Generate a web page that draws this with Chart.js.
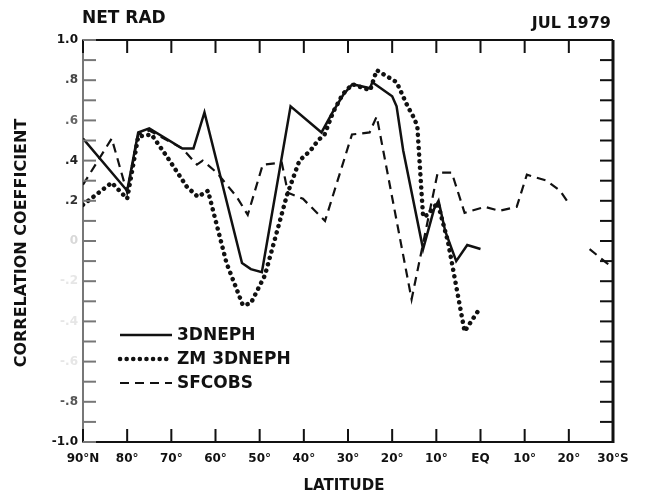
<!DOCTYPE html>
<html lang="en">
<head>
<meta charset="UTF-8">
<title>NET RAD - JUL 1979</title>
<script src="https://cdn.jsdelivr.net/npm/chart.js"></script>
<style>
  html, body { margin: 0; padding: 0; background: #fff; }
</style>
</head>
<body>
<canvas id="chart" width="652" height="497"></canvas>
<script>
// latitude: positive = north, negative = south
const nephLat = [90, 80, 77.5, 75, 67.5, 65, 62.5, 54, 52, 49.5, 43, 36, 33.5, 31, 29, 25, 24.5, 20, 19, 17.5, 13, 10.5, 9.5, 8, 5.5, 3, 0];
const nephVal = [0.51, 0.25, 0.54, 0.56, 0.46, 0.46, 0.64, -0.11, -0.14, -0.155, 0.67, 0.54, 0.64, 0.73, 0.78, 0.76, 0.79, 0.72, 0.67, 0.45, -0.04, 0.16, 0.20, 0.05, -0.10, -0.02, -0.04];

const zmLat = [90, 83.5, 80, 77.5, 74.5, 71, 66.5, 64, 61.7, 57.5, 53.8, 52, 48.8, 43.8, 41, 38.5, 36.8, 35.3, 33.4, 31.2, 29, 25, 23.5, 19, 16.5, 15, 14.3, 13, 12, 9.7, 7.4, 6.3, 3.6, 0];
const zmVal = [0.18, 0.29, 0.21, 0.52, 0.53, 0.42, 0.27, 0.22, 0.25, -0.11, -0.32, -0.31, -0.17, 0.23, 0.40, 0.45, 0.50, 0.53, 0.64, 0.73, 0.78, 0.75, 0.85, 0.79, 0.67, 0.61, 0.57, 0.12, 0.13, 0.19, 0.0, -0.13, -0.45, -0.33];

const sfcLat = [90, 83.5, 80, 77.5, 75, 67.5, 64.2, 62.9, 59.7, 55.2, 52.7, 49.3, 45, 43.6, 40.2, 35.2, 29.1, 25.1, 23.5, 15.6, 9.7, 6.5, 3.6, -1, -4.3, -8.2, -10.5, -15, -18, -20.2, -22.5, -24.7, -28.6, -30];
const sfcVal = [0.28, 0.51, 0.24, 0.53, 0.55, 0.46, 0.38, 0.40, 0.34, 0.22, 0.13, 0.38, 0.39, 0.24, 0.21, 0.10, 0.53, 0.54, 0.62, -0.29, 0.34, 0.34, 0.14, 0.17, 0.15, 0.17, 0.33, 0.30, 0.25, 0.18, null, -0.04, -0.11, -0.13];

const seriesNames = ['3DNEPH', 'ZM 3DNEPH', 'SFCOBS'];

const yLabelValues = [1, 0.8, 0.6, 0.4, 0.2, 0, -0.2, -0.4, -0.6, -0.8, -1];
const yLabelText = ['1.0', '.8', '.6', '.4', '.2', '0', '-.2', '-.4', '-.6', '-.8', '-1.0'];
const yLabelColor = ['#111', '#444', '#666', '#222', '#333', '#d8d8d8', '#e6e6e6', '#e6e6e6', '#e6e6e6', '#555', '#111'];

const FONT = '"DejaVu Sans", "Liberation Sans", sans-serif';

function pts(lat, val) {
  return lat.map((x, i) => ({ x: x, y: val[i] }));
}

function latLabel(v) {
  if (v === 90) return '90°N';
  if (v === 0) return 'EQ';
  if (v === -30) return '30°S';
  return Math.abs(v) + '°';
}

function yIndex(v) {
  return yLabelValues.findIndex(t => Math.abs(t - v) < 1e-6);
}

// inward ticks, frame, titles and legend
const decor = {
  id: 'decor',
  afterDraw(chart) {
    const ctx = chart.ctx;
    const a = chart.chartArea;
    const xs = chart.scales.x, ys = chart.scales.y;
    ctx.save();
    ctx.strokeStyle = '#111';

    ctx.lineWidth = 2;
    ctx.beginPath();
    ctx.moveTo(a.left, a.top); ctx.lineTo(a.right, a.top);
    ctx.stroke();
    ctx.lineWidth = 3;
    ctx.beginPath();
    ctx.moveTo(a.right, a.top); ctx.lineTo(a.right, a.bottom + 1);
    ctx.stroke();

    ctx.lineWidth = 2;
    xs.ticks.forEach(t => {
      const px = xs.getPixelForValue(t.value);
      ctx.beginPath();
      ctx.moveTo(px, a.top); ctx.lineTo(px, a.top + 13);
      ctx.moveTo(px, a.bottom); ctx.lineTo(px, a.bottom - 13);
      ctx.stroke();
    });
    ys.ticks.forEach(t => {
      const py = ys.getPixelForValue(t.value);
      ctx.strokeStyle = '#777';
      ctx.beginPath();
      ctx.moveTo(a.left, py); ctx.lineTo(a.left + 13, py);
      ctx.stroke();
      ctx.strokeStyle = '#111';
      ctx.beginPath();
      ctx.moveTo(a.right, py); ctx.lineTo(a.right - 13, py);
      ctx.stroke();
    });

    ctx.fillStyle = '#111';
    ctx.textBaseline = 'middle';
    ctx.font = 'bold 17px ' + FONT;
    ctx.textAlign = 'left';
    ctx.fillText('NET RAD', 82, 19);
    ctx.font = 'bold 16px ' + FONT;
    ctx.textAlign = 'right';
    ctx.fillText('JUL 1979', 611, 24);

    ctx.font = 'bold 15px ' + FONT;
    ctx.textAlign = 'center';
    ctx.fillText('LATITUDE', 344, 486);
    ctx.save();
    ctx.translate(22, 243);
    ctx.rotate(-Math.PI / 2);
    ctx.font = 'bold 16px ' + FONT;
    ctx.fillText('CORRELATION COEFFICIENT', 0, 0);
    ctx.restore();

    // legend
    const rows = [335, 359, 383];
    ctx.font = 'bold 17px ' + FONT;
    ctx.textAlign = 'left';
    chart.data.datasets.forEach((ds, i) => {
      ctx.save();
      ctx.strokeStyle = ds.borderColor;
      ctx.lineWidth = ds.borderWidth;
      ctx.lineCap = ds.borderCapStyle || 'butt';
      ctx.setLineDash(ds.borderDash || []);
      ctx.beginPath();
      ctx.moveTo(120, rows[i]); ctx.lineTo(172, rows[i]);
      ctx.stroke();
      ctx.restore();
      ctx.fillText(ds.label, 177, rows[i] + 1);
    });
    ctx.restore();
  }
};

new Chart(document.getElementById('chart'), {
  type: 'line',
  data: {
    datasets: [
      {
        label: seriesNames[0],
        data: pts(nephLat, nephVal),
        borderColor: '#111',
        borderWidth: 2.5,
        pointRadius: 0,
        tension: 0
      },
      {
        label: seriesNames[1],
        data: pts(zmLat, zmVal),
        borderColor: '#111',
        borderWidth: 4.5,
        borderDash: [0.1, 6.5],
        borderCapStyle: 'round',
        pointRadius: 0,
        tension: 0
      },
      {
        label: seriesNames[2],
        data: pts(sfcLat, sfcVal),
        borderColor: '#111',
        borderWidth: 2.2,
        borderDash: [9, 6],
        pointRadius: 0,
        spanGaps: false,
        tension: 0
      }
    ]
  },
  options: {
    responsive: false,
    animation: false,
    layout: { padding: { top: 40, right: 39, left: 0, bottom: 0 } },
    plugins: {
      legend: { display: false },
      title: { display: false },
      tooltip: { enabled: false }
    },
    scales: {
      x: {
        type: 'linear',
        reverse: true,
        min: -30,
        max: 90,
        afterFit: s => { s.height = 55; },
        grid: { display: false, drawTicks: false },
        border: { display: true, color: '#111', width: 2 },
        ticks: {
          stepSize: 10,
          autoSkip: false,
          maxRotation: 0,
          padding: 10,
          color: '#111',
          font: { family: FONT, size: 12, weight: 'bold' },
          callback: v => latLabel(v)
        }
      },
      y: {
        min: -1,
        max: 1,
        afterFit: s => { s.width = 83; },
        grid: { display: false, drawTicks: false },
        border: { display: true, color: '#777', width: 2 },
        ticks: {
          stepSize: 0.1,
          autoSkip: false,
          padding: 5,
          font: { family: FONT, size: 12, weight: 'bold' },
          color: c => { const i = yIndex(c.tick.value); return i < 0 ? '#111' : yLabelColor[i]; },
          callback: v => { const i = yIndex(v); return i < 0 ? '' : yLabelText[i]; }
        }
      }
    }
  },
  plugins: [decor]
});
</script>
</body>
</html>
